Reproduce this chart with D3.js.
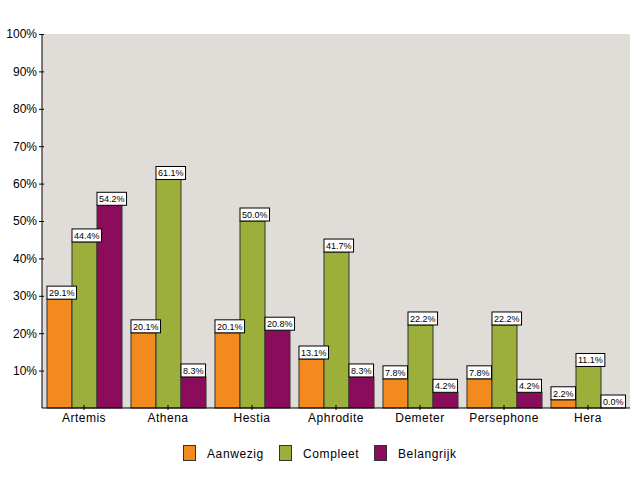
<!DOCTYPE html>
<html><head><meta charset="utf-8">
<script src="https://cdn.jsdelivr.net/npm/d3@7"></script>
<style>body{margin:0;background:#fff}</style>
</head><body>
<svg id="c" width="640" height="480"></svg>
<script>
const categories = ["Artemis","Athena","Hestia","Aphrodite","Demeter","Persephone","Hera"];
const seriesNames = ["Aanwezig","Compleet","Belangrijk"];
const aanwezig = [29.1,20.1,20.1,13.1,7.8,7.8,2.2];
const compleet = [44.4,61.1,50.0,41.7,22.2,22.2,11.1];
const belangrijk = [54.2,8.3,20.8,8.3,4.2,4.2,0.0];
const yTicks = [10,20,30,40,50,60,70,80,90,100];
const colors = ["#f28a1e","#9caf3b","#8a0c5a"];
const series = [aanwezig, compleet, belangrijk];

const svg = d3.select("#c");
const L=42, R=630, T=34, B=408;
const x = d3.scaleBand().domain(categories).range([L,R]).paddingInner(0.107).paddingOuter(0.0535);
const xs = d3.scaleBand().domain(seriesNames).range([0,x.bandwidth()]);
const y = d3.scaleLinear().domain([0,100]).range([B,T]);

svg.append("rect").attr("x",L).attr("y",T).attr("width",R-L).attr("height",B-T).attr("fill","#e0dcd8");

const font = "Liberation Sans, Arial, sans-serif";
seriesNames.forEach((s,si)=>{
  const g = svg.append("g");
  g.selectAll("rect").data(series[si]).join("rect")
    .attr("x",(d,i)=>x(categories[i])+xs(s)+0.5)
    .attr("y",d=>y(d))
    .attr("width",xs.bandwidth())
    .attr("height",d=>Math.max(0,B-y(d)))
    .attr("fill",colors[si]).attr("stroke","#333").attr("stroke-width",1);
});
// labels
seriesNames.forEach((s,si)=>{
  series[si].forEach((d,i)=>{
    const txt = d.toFixed(1)+"%";
    const bx = x(categories[i])+xs(s)+0.5;
    const by = y(d);
    const g = svg.append("g");
    const t = g.append("text").attr("x",bx+2).attr("y",by-3).text(txt)
      .attr("font-family",font).attr("font-size",9).attr("fill","#000");
    const w = t.node().getComputedTextLength();
    g.insert("rect","text").attr("x",bx).attr("y",by-13).attr("width",w+4).attr("height",13)
      .attr("fill","#fff").attr("stroke","#000").attr("stroke-width",1);
  });
});

// axes
const ya = svg.append("g").attr("transform",`translate(${L},0)`)
  .call(d3.axisLeft(y).tickValues(yTicks).tickSize(4).tickFormat(d=>d+"%"));
ya.select(".domain").attr("d",`M0,${T}V${B}`).attr("stroke","#000");
ya.selectAll("text").attr("font-family",font).attr("font-size",12).attr("fill","#000").attr("x",-5);
ya.selectAll("line").attr("x1",-3).attr("x2",2);
const xa = svg.append("g").attr("transform",`translate(0,${B})`)
  .call(d3.axisBottom(x).tickSize(3));
xa.select(".domain").attr("d",`M${L},0H${R}`).attr("stroke","#000");
xa.selectAll("line").attr("y1",-3).attr("y2",2);
xa.selectAll("text").attr("font-family",font).attr("font-size",12).attr("letter-spacing",0.5).attr("fill","#000").attr("y",5);

// legend
const legX = [183,279,374];
seriesNames.forEach((s,si)=>{
  svg.append("rect").attr("x",legX[si]+0.5).attr("y",445.5).attr("width",12).attr("height",15)
    .attr("fill",colors[si]).attr("stroke","#333");
  svg.append("text").attr("x",legX[si]+24).attr("y",458).text(s)
    .attr("font-family",font).attr("font-size",12).attr("letter-spacing",0.6).attr("fill","#000");
});
</script>
</body></html>
